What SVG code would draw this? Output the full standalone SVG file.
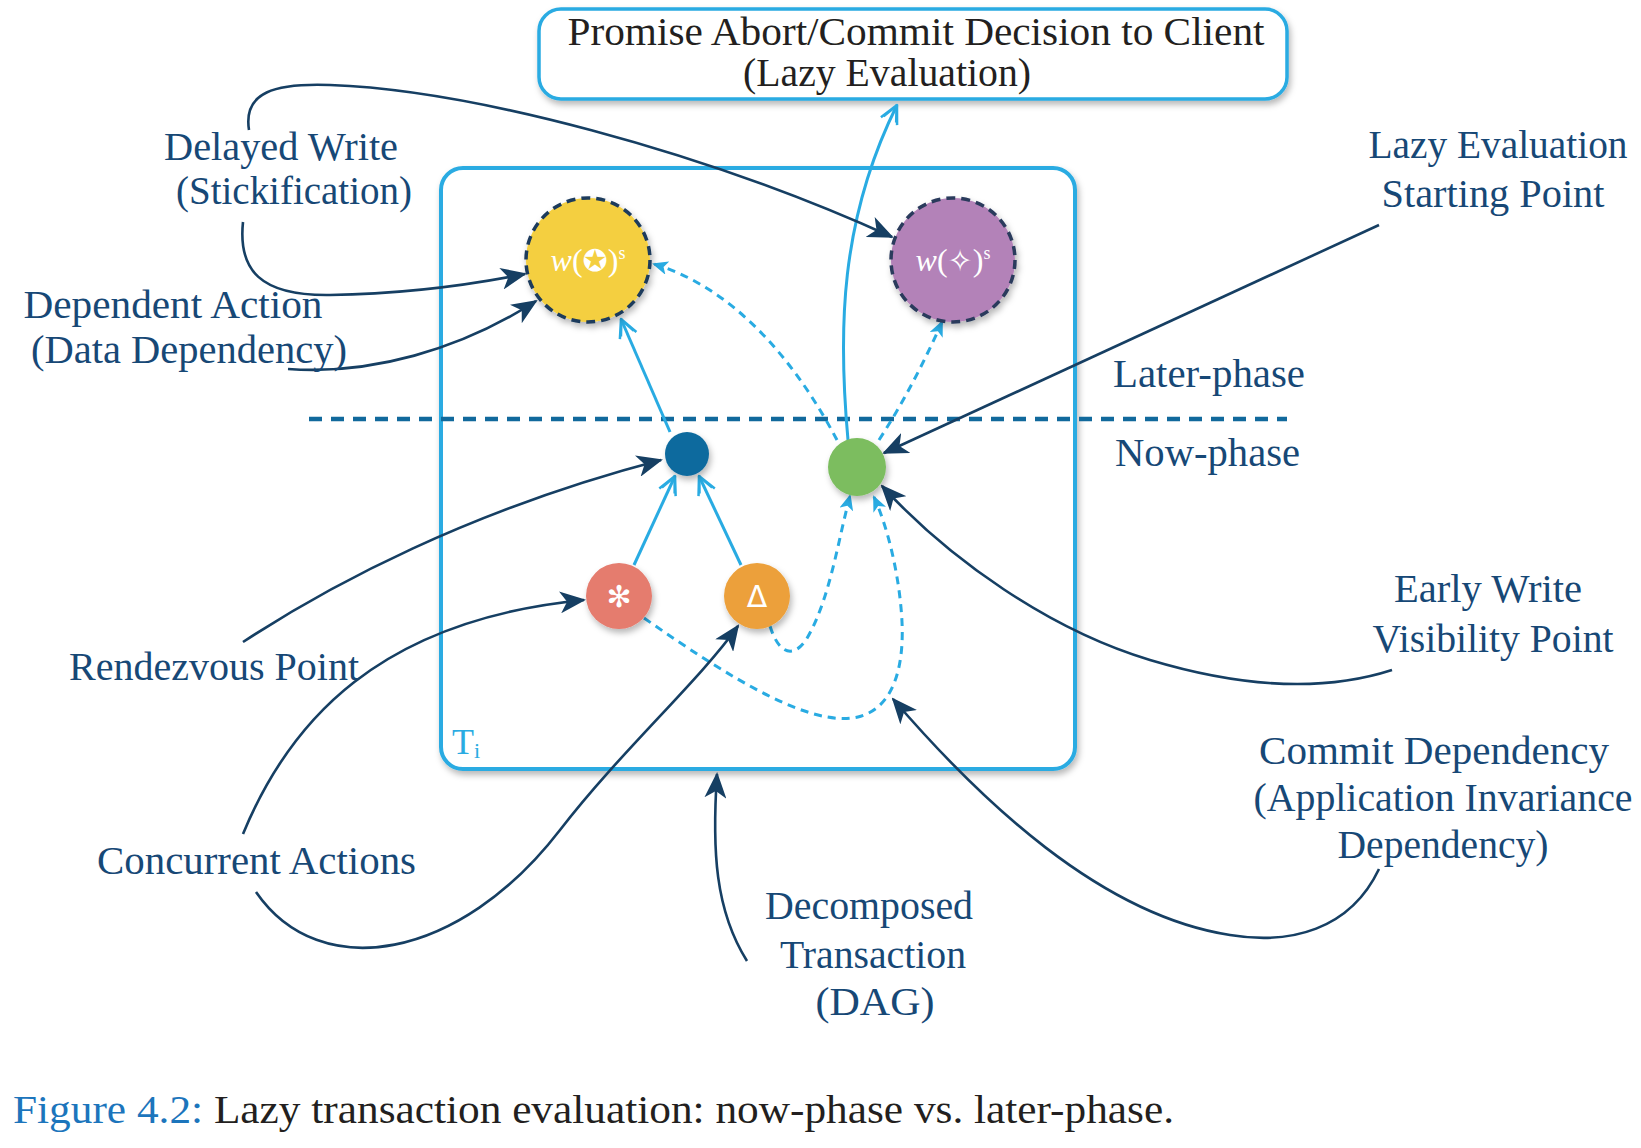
<svg xmlns="http://www.w3.org/2000/svg" width="1641" height="1148" viewBox="0 0 1641 1148">
<style>
.lbl{font-family:"Liberation Serif","DejaVu Serif",serif;font-size:40px;fill:#174876;}
.mid{text-anchor:middle;}
.blk{font-family:"Liberation Serif","DejaVu Serif",serif;font-size:40px;fill:#231f20;}
.nav{fill:none;stroke:#163f63;stroke-width:2.6;marker-end:url(#an);}
.sb{fill:none;stroke:#29abe2;stroke-width:3;marker-end:url(#ao);}
.db{fill:none;stroke:#29abe2;stroke-width:3;stroke-dasharray:8 6;marker-end:url(#ad);}
.sym{font-family:"DejaVu Sans",sans-serif;fill:#ffffff;}
</style>
<defs>
<filter id="sh" x="-30%" y="-30%" width="160%" height="160%">
<feDropShadow dx="2" dy="4" stdDeviation="3" flood-color="#000" flood-opacity="0.28"/>
</filter>
<marker id="an" viewBox="0 0 26 22" refX="24" refY="11" markerWidth="26" markerHeight="22" markerUnits="userSpaceOnUse" orient="auto">
<path d="M0,0 L26,11 L0,22 L7,11 z" fill="#163f63"/>
</marker>
<marker id="ao" viewBox="0 0 22 22" refX="20" refY="11" markerWidth="22" markerHeight="22" markerUnits="userSpaceOnUse" orient="auto">
<path d="M2,2 L20,11 L2,20 M4,4 L19,11 L4,18" fill="none" stroke="#29abe2" stroke-width="2.5" stroke-linejoin="round"/>
</marker>
<marker id="ad" viewBox="0 0 16 14" refX="14" refY="7" markerWidth="16" markerHeight="14" markerUnits="userSpaceOnUse" orient="auto">
<path d="M0,0 L16,7 L0,14 L4,7 z" fill="#29abe2"/>
</marker>
</defs>
<rect width="1641" height="1148" fill="#ffffff"/>

<g id="promise-box">
<rect x="539" y="9" width="748" height="90" rx="22" fill="#fff" stroke="#29abe2" stroke-width="3.5" filter="url(#sh)"/>
<text class="blk mid" x="916" y="45" textLength="697" lengthAdjust="spacingAndGlyphs">Promise Abort/Commit Decision to Client</text>
<text class="blk mid" x="887" y="86" textLength="288" lengthAdjust="spacingAndGlyphs">(Lazy Evaluation)</text>
</g>

<g id="transaction-box">
<rect x="441" y="168" width="634" height="601" rx="22" fill="#fff" stroke="#29abe2" stroke-width="4" filter="url(#sh)"/>
<text x="452" y="754" font-family="Liberation Serif, serif" font-size="36" fill="#29abe2">T<tspan font-size="22" dy="4">i</tspan></text>
</g>

<g id="phase-divider">
<line x1="309" y1="419" x2="1287" y2="419" stroke="#11699c" stroke-width="4.5" stroke-dasharray="13 9"/>
<text class="lbl" x="1113" y="387" textLength="192" lengthAdjust="spacingAndGlyphs">Later-phase</text>
<text class="lbl" x="1115" y="466" textLength="185" lengthAdjust="spacingAndGlyphs">Now-phase</text>
</g>

<g id="connectors">
<path class="sb" d="M670,432 L621,319"/>
<path class="sb" d="M634,565 L675,476"/>
<path class="sb" d="M741,565 L699,476"/>
<path class="sb" d="M848,440 C838,330 840,220 897,105"/>
<path class="db" d="M837,440 C800,370 740,290 654,264"/>
<path class="db" d="M879,440 C905,400 925,360 942,322"/>
<path class="db" d="M770,626 C778,652 792,660 806,640 C830,600 838,540 850,496"/>
<path class="db" d="M644,618 C730,678 810,728 858,717 C895,708 904,664 902,622 C900,580 889,530 874,497"/>
<path class="nav" d="M249,130 C243,92 275,83 330,85 C470,90 700,150 892,237"/>
<path class="nav" d="M243,222 C238,270 260,296 330,295 C400,294 470,285 525,274"/>
<path class="nav" d="M288,369 C370,375 460,350 536,301"/>
<path class="nav" d="M1379,225 L884,453"/>
<path class="nav" d="M243,642 C330,585 470,510 661,460"/>
<path class="nav" d="M1392,670 C1330,690 1250,690 1150,660 C1050,630 950,560 882,486"/>
<path class="nav" d="M243,834 C290,720 380,620 584,600"/>
<path class="nav" d="M256,892 C320,985 460,960 560,830 C620,752 700,680 738,626"/>
<path class="nav" d="M747,961 C715,910 712,850 717,774"/>
<path class="nav" d="M1379,869 C1350,930 1290,945 1230,935 C1100,915 980,800 893,699"/>
</g>

<g id="delayed-write-star">
<circle cx="588" cy="260" r="62" fill="#f4cf3f" stroke="#1b3a5c" stroke-width="3.5" stroke-dasharray="9 6" filter="url(#sh)"/>
<text x="588" y="271" text-anchor="middle" fill="#fff" font-family="Liberation Serif, serif" font-size="32"><tspan font-style="italic">w</tspan>(<tspan font-family="DejaVu Sans, sans-serif" font-size="30">✪</tspan>)<tspan font-size="18" dy="-12">s</tspan></text>
</g>

<g id="delayed-write-sparkle">
<circle cx="953" cy="260" r="62" fill="#b382b8" stroke="#2a3a5c" stroke-width="3.5" stroke-dasharray="9 6" filter="url(#sh)"/>
<text x="953" y="271" text-anchor="middle" fill="#fff" font-family="Liberation Serif, serif" font-size="32"><tspan font-style="italic">w</tspan>(<tspan font-family="DejaVu Sans, sans-serif" font-size="30">✧</tspan>)<tspan font-size="18" dy="-12">s</tspan></text>
</g>

<g id="rendezvous">
<circle cx="687" cy="454" r="22" fill="#116b9e" filter="url(#sh)"/>
</g>

<g id="early-write">
<circle cx="857" cy="467" r="29" fill="#7bbd5e" filter="url(#sh)"/>
</g>

<g id="action-asterisk">
<circle cx="619" cy="596" r="33" fill="#e57b6e" filter="url(#sh)"/>
<text class="sym" x="619" y="607" text-anchor="middle" font-size="30">✻</text>
</g>

<g id="action-delta">
<circle cx="757" cy="596" r="33" fill="#eca03a" filter="url(#sh)"/>
<text class="sym" x="757" y="607" text-anchor="middle" font-size="30">Δ</text>
</g>

<g id="label-delayed-write">
<text class="lbl mid" x="281" y="160" textLength="234" lengthAdjust="spacingAndGlyphs">Delayed Write</text>
<text class="lbl mid" x="294" y="204" textLength="236" lengthAdjust="spacingAndGlyphs">(Stickification)</text>
</g>
<g id="label-dependent-action">
<text class="lbl mid" x="173" y="318" textLength="299" lengthAdjust="spacingAndGlyphs">Dependent Action</text>
<text class="lbl mid" x="189" y="363" textLength="316" lengthAdjust="spacingAndGlyphs">(Data Dependency)</text>
</g>
<g id="label-lazy-start">
<text class="lbl mid" x="1498" y="158" textLength="259" lengthAdjust="spacingAndGlyphs">Lazy Evaluation</text>
<text class="lbl mid" x="1493" y="207" textLength="223" lengthAdjust="spacingAndGlyphs">Starting Point</text>
</g>
<g id="label-rendezvous">
<text class="lbl" x="69" y="680" textLength="290" lengthAdjust="spacingAndGlyphs">Rendezvous Point</text>
</g>
<g id="label-early-write">
<text class="lbl mid" x="1488" y="602" textLength="188" lengthAdjust="spacingAndGlyphs">Early Write</text>
<text class="lbl mid" x="1493" y="652" textLength="241" lengthAdjust="spacingAndGlyphs">Visibility Point</text>
</g>
<g id="label-concurrent">
<text class="lbl" x="97" y="874" textLength="319" lengthAdjust="spacingAndGlyphs">Concurrent Actions</text>
</g>
<g id="label-commit-dependency">
<text class="lbl mid" x="1434" y="764" textLength="350" lengthAdjust="spacingAndGlyphs">Commit Dependency</text>
<text class="lbl mid" x="1443" y="811" textLength="379" lengthAdjust="spacingAndGlyphs">(Application Invariance</text>
<text class="lbl mid" x="1443" y="858" textLength="211" lengthAdjust="spacingAndGlyphs">Dependency)</text>
</g>
<g id="label-decomposed">
<text class="lbl mid" x="869" y="919" textLength="208" lengthAdjust="spacingAndGlyphs">Decomposed</text>
<text class="lbl mid" x="873" y="968" textLength="186" lengthAdjust="spacingAndGlyphs">Transaction</text>
<text class="lbl mid" x="875" y="1015" textLength="119" lengthAdjust="spacingAndGlyphs">(DAG)</text>
</g>

<g id="caption">
<text class="blk" x="13" y="1123" textLength="1161" lengthAdjust="spacingAndGlyphs"><tspan fill="#1c75bc">Figure 4.2:</tspan> Lazy transaction evaluation: now-phase vs. later-phase.</text>
</g>
</svg>
